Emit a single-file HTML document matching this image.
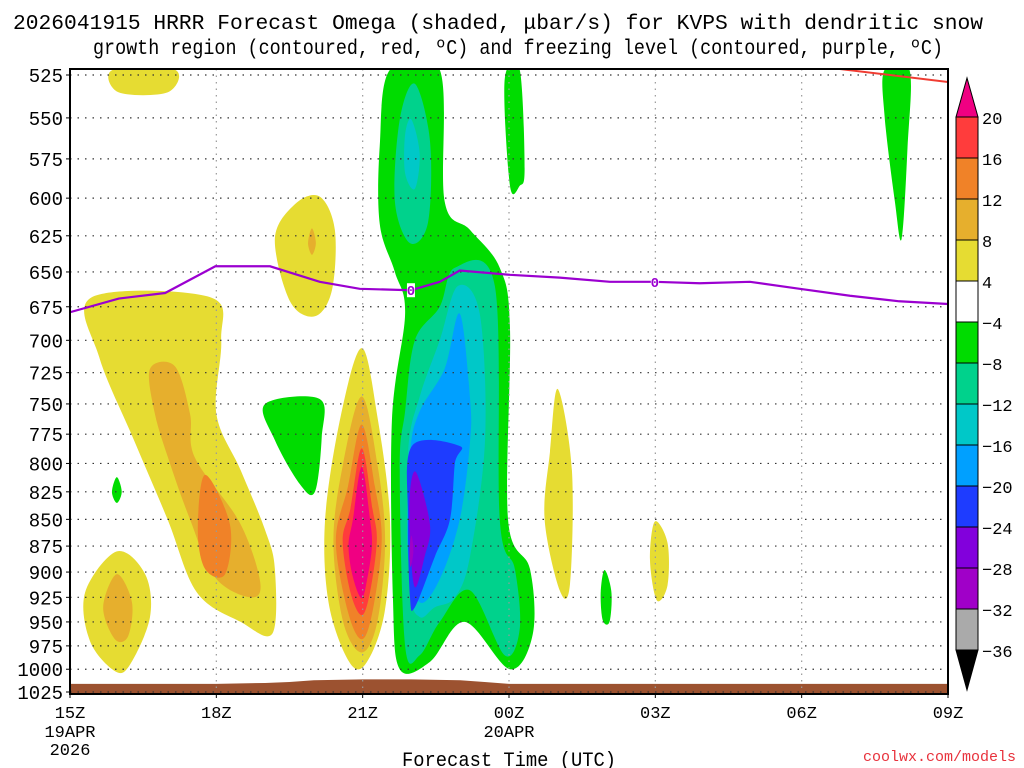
<!DOCTYPE html>
<html><head><meta charset="utf-8"><style>
html,body{margin:0;padding:0;background:#fff;width:1024px;height:768px;overflow:hidden}
svg{display:block;font-family:"Liberation Mono","DejaVu Sans Mono",monospace}
</style></head><body>
<svg id="chart" width="1024" height="768">
<g font-size="21" text-anchor="middle" fill="#000">
<text x="498" y="29" textLength="970" lengthAdjust="spacingAndGlyphs">2026041915 HRRR Forecast Omega (shaded, μbar/s) for KVPS with dendritic snow</text>
<text x="518" y="54" textLength="850" lengthAdjust="spacingAndGlyphs">growth region (contoured, red, ºC) and freezing level (contoured, purple, ºC)</text>
</g>
<g id="fills"></g>
<g id="grid"></g>
<g id="lines"></g>
<g id="axes"></g>
<g id="cbar"></g>
<text x="402" y="766" font-size="20" textLength="214" lengthAdjust="spacingAndGlyphs">Forecast Time (UTC)</text>
<text x="1016" y="761" font-size="15" fill="#e8323c" text-anchor="end">coolwx.com/models</text>
</svg>
<script>
const pTicks=[525,550,575,600,625,650,675,700,725,750,775,800,825,850,875,900,925,950,975,1000,1025];
const xTickHours=[0,3,6,9,12,15,18];
const xTickLabels=["15Z","18Z","21Z","00Z","03Z","06Z","09Z"];
const cbLevels=[20,16,12,8,4,-4,-8,-12,-16,-20,-24,-28,-32,-36];
const cbColors=["#ff3c3c","#f08228","#e6af2d","#e6dc32","#ffffff","#00dc00","#00d28c","#00c8c8","#00a0ff","#1e3cff","#8200dc","#a000c8","#aaaaaa"];
const freezeHours=[0,1,1.95,2.98,4.1,5.12,5.94,6.99,7.58,7.99,9.02,10.04,11.07,11.99,12.91,13.94,14.96,15.99,17.0,18];
const freezeP=[679,669,665,646,646,657,662,663,657,649,652,654,657,657,658,657,662,667,671,673];
const freezeLabelHours=[6.99,11.99];
const dgzHours=[15.6,18];
const dgzP=[521,529];
const groundHours=[0,3,4,4.5,5,6,7,8,8.5,9,10,12,15,18];
const groundP=[1016,1016,1015,1014,1012,1011,1011,1012,1014,1016,1016,1016,1016,1016];
// omega shapes: [colorIndex, points [hour, hPa]]
const shapes=[
[3,[[0.45,668],[2.87,668],[3.1,700],[3.0,758],[3.5,806],[4.0,860],[4.2,897],[4.15,962],[3.5,950],[2.6,920],[2.0,850],[1.3,779],[0.6,713]]],
[2,[[1.64,722],[2.15,720],[2.46,758],[2.56,795],[3.48,853],[3.9,910],[3.69,925],[2.97,905],[2.46,850],[2.05,800],[1.74,758]]],
[1,[[2.77,810],[3.28,855],[3.18,902],[2.77,897],[2.62,860]]],
[3,[[0.96,880],[1.54,902],[1.64,945],[1.23,995],[0.92,1002],[0.41,970],[0.31,920]]],
[2,[[0.96,902],[1.27,930],[1.19,965],[0.92,968],[0.68,935]]],
[3,[[0.88,522],[2.15,522],[2.0,535],[1.0,535]]],
[3,[[5.12,599],[5.43,621],[5.37,663],[5.02,682],[4.51,671],[4.2,627],[4.61,604]]],
[2,[[4.96,620],[5.04,630],[4.96,638],[4.88,630]]],
[5,[[4.0,750],[5.12,746],[5.16,778],[5.02,825],[4.71,818],[4.2,780]]],
[5,[[0.96,812],[1.06,825],[0.96,835],[0.86,825]]],
[3,[[5.98,706],[6.3,760],[6.56,850],[6.45,940],[6.05,995],[5.7,990],[5.3,930],[5.23,850],[5.55,760]]],
[2,[[5.98,744],[6.3,800],[6.46,870],[6.3,950],[5.98,982],[5.6,950],[5.4,870],[5.6,800]]],
[1,[[5.98,767],[6.25,820],[6.39,870],[6.2,940],[5.98,968],[5.7,940],[5.45,870],[5.7,820]]],
[0,[[5.98,787],[6.2,840],[6.29,870],[6.15,920],[5.98,943],[5.75,920],[5.59,870],[5.75,840]]],
[-1,[[5.98,803],[6.15,850],[6.19,875],[6.1,905],[5.98,926],[5.8,905],[5.71,875],[5.8,850]]],
[5,[[6.56,522],[7.58,522],[7.68,602],[8.2,621],[8.81,647],[9.02,691],[8.98,850],[9.43,897],[9.49,962],[9.02,1000],[8.09,950],[7.38,992],[6.76,1000],[6.62,925],[6.6,763],[6.87,680],[6.66,650],[6.35,617],[6.35,567]]],
[6,[[7.07,530],[7.38,564],[7.34,616],[6.97,630],[6.66,602],[6.76,551]]],
[7,[[7.0,551],[7.17,572],[7.07,594],[6.87,584],[6.87,560]]],
[6,[[7.89,647],[8.71,660],[8.81,850],[9.12,897],[9.22,957],[8.91,985],[8.2,918],[7.58,950],[7.17,985],[6.87,975],[6.76,806],[6.87,756],[7.07,700],[7.58,675]]],
[7,[[7.95,660],[8.4,680],[8.51,779],[8.2,885],[7.89,925],[7.48,935],[7.17,945],[6.97,915],[6.93,792],[7.17,744],[7.58,700]]],
[8,[[7.99,680],[8.2,745],[8.2,782],[7.99,850],[7.58,907],[7.17,930],[6.93,885],[6.97,792],[7.17,756],[7.68,722]]],
[9,[[7.01,785],[7.99,785],[7.89,800],[7.79,850],[7.48,885],[7.07,935],[6.97,925],[6.93,850]]],
[10,[[7.1,808],[7.38,855],[7.27,885],[7.07,915],[6.97,870],[6.97,825]]],
[11,[[7.0,865],[7.04,880],[6.98,895],[6.96,880]]],
[5,[[8.91,528],[9.22,522],[9.32,581],[9.22,592],[9.02,592]]],
[3,[[10.0,738],[10.29,806],[10.25,912],[10.04,918],[9.73,850],[9.84,790]]],
[3,[[11.99,852],[12.25,872],[12.25,913],[12.03,928],[11.89,888]]],
[5,[[10.96,898],[11.1,920],[11.06,950],[10.92,948],[10.88,920]]],
[5,[[16.7,522],[17.21,522],[17.17,568],[17.05,627],[16.91,602],[16.7,549]]]
];
const L=70,R=948,T=69,B=694,P0=525,P1=1025;
const yS=B-2-75;
function xOf(h){return L+(h/18)*(R-L);}
function yOf(p){return 75+Math.log(p/P0)/Math.log(P1/P0)*yS;}
const NS="http://www.w3.org/2000/svg";
function mk(tag,attrs,parent){const e=document.createElementNS(NS,tag);for(const k in attrs)e.setAttribute(k,attrs[k]);parent.appendChild(e);return e;}
function smooth(pts){const n=pts.length;let d="M"+pts[0][0]+","+pts[0][1];
for(let i=0;i<n;i++){const p0=pts[(i-1+n)%n],p1=pts[i],p2=pts[(i+1)%n],p3=pts[(i+2)%n];
const c1=[p1[0]+(p2[0]-p0[0])/6,p1[1]+(p2[1]-p0[1])/6],c2=[p2[0]-(p3[0]-p1[0])/6,p2[1]-(p3[1]-p1[1])/6];
d+="C"+c1[0]+","+c1[1]+" "+c2[0]+","+c2[1]+" "+p2[0]+","+p2[1];}return d+"Z";}
const fills=document.getElementById('fills');
mk('clipPath',{id:'pc'},fills);
mk('rect',{x:L,y:T,width:R-L,height:B-T},document.getElementById('pc'));
const fg=mk('g',{'clip-path':'url(#pc)'},fills);
shapes.forEach((s,i)=>{
 const col=s[0]<0?"#f00082":cbColors[s[0]];
 const path=mk('path',{d:smooth(s[1].map(q=>[xOf(q[0]),yOf(q[1])])),fill:col},fg);
 
 
});
let gd="M"+xOf(0)+","+B;
groundHours.forEach((h,i)=>{gd+="L"+xOf(h)+","+yOf(groundP[i]);});
gd+="L"+xOf(18)+","+B+"Z";
const gp=mk('path',{d:gd,fill:"#9c5230"},fg);


const grid=document.getElementById('grid');
pTicks.forEach(p=>{const l=mk('line',{x1:L,x2:R,y1:yOf(p),y2:yOf(p),stroke:"#333","stroke-width":1.2,"stroke-dasharray":"1.5,6"},grid);
 
 });
xTickHours.forEach(h=>{if(h==0||h==18)return;const l=mk('line',{x1:xOf(h),x2:xOf(h),y1:T,y2:B,stroke:"#999","stroke-width":1.2,"stroke-dasharray":"1.5,5"},grid);
 
 });
const lines=document.getElementById('lines');
const lg=mk('g',{'clip-path':'url(#pc)'},lines);
const fz=mk('polyline',{points:freezeHours.map((h,i)=>xOf(h)+","+yOf(freezeP[i])).join(" "),fill:"none",stroke:"#9b00d0","stroke-width":2.2},lg);


freezeLabelHours.forEach(h=>{let k=0;for(let i=0;i<freezeHours.length-1;i++)if(h>=freezeHours[i])k=i;
 const f=(h-freezeHours[k])/(freezeHours[k+1]-freezeHours[k]);const p=freezeP[k]+f*(freezeP[k+1]-freezeP[k]);
 mk('rect',{x:xOf(h)-4,y:yOf(p)-7,width:8,height:14,fill:"#fff"},lg);
 const t=mk('text',{x:xOf(h),y:yOf(p)+5,"text-anchor":"middle","font-size":14,"font-weight":"bold",fill:"#9b00d0"},lg);t.textContent="0";
 
 });
const dg=mk('polyline',{points:dgzHours.map((h,i)=>xOf(h)+","+yOf(dgzP[i])).join(" "),fill:"none",stroke:"#f03c32","stroke-width":2},lg);


const axes=document.getElementById('axes');
mk('rect',{x:L,y:T,width:R-L,height:B-T,fill:"none",stroke:"#000","stroke-width":2},axes);
pTicks.forEach(p=>{mk('line',{x1:L-4,x2:L,y1:yOf(p),y2:yOf(p),stroke:"#000"},axes);
 const t=mk('text',{x:L-7,y:yOf(p)+7,"text-anchor":"end","font-size":19},axes);t.textContent=p;
 
 });
xTickHours.forEach((h,i)=>{mk('line',{x1:xOf(h),x2:xOf(h),y1:B,y2:B+4,stroke:"#000"},axes);
 const t=mk('text',{x:xOf(h),y:718,"text-anchor":"middle","font-size":17},axes);t.textContent=xTickLabels[i];
 
 });
[["19APR",xOf(0),737],["2026",xOf(0),755],["20APR",xOf(9),737]].forEach(a=>{const t=mk('text',{x:a[1],y:a[2],"text-anchor":"middle","font-size":17},axes);t.textContent=a[0];
 
 });
const cb=document.getElementById('cbar');
const cx=956,cw=22,ct=117,step=(650-117)/(cbLevels.length-1);
mk('path',{d:`M${cx},${ct}L${cx+cw/2},78L${cx+cw},${ct}Z`,fill:"#f00082",stroke:"#000"},cb);
cbColors.forEach((c,i)=>{const r=mk('rect',{x:cx,y:ct+i*step,width:cw,height:step,fill:c,stroke:"#000","stroke-width":1},cb);
 
 });
const yb=ct+cbColors.length*step;
mk('path',{d:`M${cx},${yb}L${cx+cw/2},690L${cx+cw},${yb}Z`,fill:"#000",stroke:"#000"},cb);
cbLevels.forEach((v,i)=>{const t=mk('text',{x:cx+cw+4,y:ct+i*step+7,"font-size":17},cb);t.textContent=v<0?"−"+(-v):v;
 
 });
</script>
</body></html>
